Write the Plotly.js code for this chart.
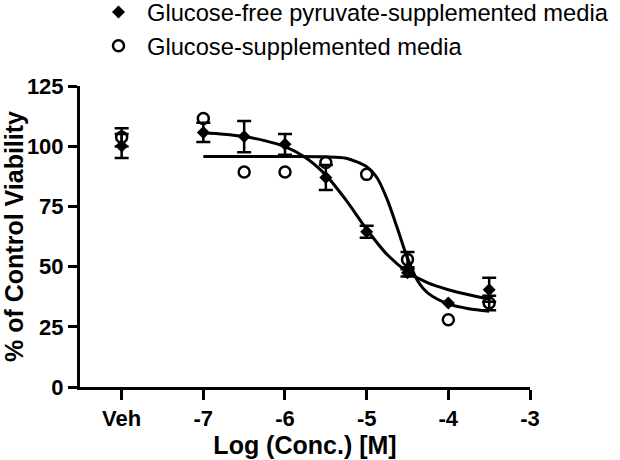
<!DOCTYPE html>
<html>
<head>
<meta charset="utf-8">
<script src="https://cdn.plot.ly/plotly-3.0.1.min.js"></script>
<style>html,body{margin:0;padding:0;background:#fff;}#chart{width:620px;height:460px;}</style>
</head>
<body>
<div id="chart"></div>
<script>
// Measured points (log concentration; Veh plotted at -8)
const doseX = [-8, -7, -6.5, -6, -5.5, -5, -4.5, -4, -3.5];
const glucoseFreeY   = [100.1, 105.7, 104.0, 100.8, 87.0, 64.5, 47.4, 34.9, 40.4];
const glucoseFreeErr = [5.0, 4.0, 6.5, 4.3, 5.2, 2.5, 1.5, null, 5.0];
const glucoseY   = [103.7, 111.5, 89.3, 89.3, 93.2, 88.3, 52.9, 27.9, 34.9];
const glucoseErr = [3.8, null, null, null, null, null, 3.2, null, 3.0];

// Fitted curves
const glucoseFreeFitX = [-7, -6.75, -6.5, -6.25, -6, -5.75, -5.5, -5.25, -5, -4.75, -4.5, -4.25, -4, -3.75, -3.5];
const glucoseFreeFitY = [105.6, 105.0, 104.0, 102.3, 99.8, 95.3, 88.0, 77.5, 65.5, 55.0, 47.8, 43.2, 40.4, 38.3, 36.5];
const glucoseFitX = [-7, -6.5, -6, -5.5, -5.25, -5, -4.875, -4.75, -4.625, -4.5, -4.375, -4.25, -4, -3.75, -3.5];
const glucoseFitY = [95.7, 95.7, 95.7, 95.6, 95.0, 91.5, 87.0, 78.0, 66.0, 53.5, 44.0, 39.0, 34.5, 32.5, 31.5];

const seriesNames = ['Glucose-free pyruvate-supplemented media', 'Glucose-supplemented media'];
const xTickVals = [-8, -7, -6, -5, -4, -3];
const xTickText = ['Veh', '-7', '-6', '-5', '-4', '-3'];
const yTickVals = [0, 25, 50, 75, 100, 125];

const FONT = 'Arial, "Liberation Sans", sans-serif';

// error bars only where a bar is visible in the reference
function errTrace(ys, errs) {
  const idx = errs.map((e, i) => (e === null ? -1 : i)).filter(i => i >= 0);
  return {
    x: idx.map(i => doseX[i]), y: idx.map(i => ys[i]), type: 'scatter', mode: 'markers',
    marker: {size: 2, color: 'rgba(0,0,0,0)'},
    error_y: {type: 'data', array: idx.map(i => errs[i]), visible: true, color: '#000', thickness: 2.5, width: 7},
    showlegend: false, hoverinfo: 'skip'
  };
}

const traces = [
  {
    x: glucoseFreeFitX, y: glucoseFreeFitY, type: 'scatter', mode: 'lines',
    line: {color: '#000', width: 3, shape: 'spline', smoothing: 0.8},
    showlegend: false, hoverinfo: 'skip'
  },
  {
    x: glucoseFitX, y: glucoseFitY, type: 'scatter', mode: 'lines',
    line: {color: '#000', width: 3, shape: 'spline', smoothing: 0.8},
    showlegend: false, hoverinfo: 'skip'
  },
  errTrace(glucoseFreeY, glucoseFreeErr),
  errTrace(glucoseY, glucoseErr),
  {
    x: doseX, y: glucoseFreeY, type: 'scatter', mode: 'markers',
    name: seriesNames[0],
    marker: {symbol: 'diamond', size: 10, color: '#000'}
  },
  {
    x: doseX, y: glucoseY, type: 'scatter', mode: 'markers',
    name: seriesNames[1],
    marker: {symbol: 'circle-open', size: 11, color: '#000', line: {color: '#000', width: 2.5}}
  }
];

const layout = {
  width: 620, height: 460,
  paper_bgcolor: '#fff', plot_bgcolor: '#fff',
  margin: {l: 80, r: 90, t: 86, b: 73, autoexpand: false},
  font: {family: FONT, color: '#000'},
  showlegend: true,
  legend: {
    x: 0.0222, xanchor: 'left', y: 1.3186, yanchor: 'top',
    bgcolor: 'rgba(0,0,0,0)', borderwidth: 0, itemwidth: 47,
    font: {family: FONT, size: 23.7, color: '#000'}
  },
  xaxis: {
    range: [-8.51, -3], tickvals: xTickVals, ticktext: xTickText,
    showgrid: false, zeroline: false,
    showline: true, linecolor: '#000', linewidth: 3,
    ticks: 'outside', ticklen: 10, tickwidth: 3, tickcolor: '#000',
    tickfont: {family: FONT, size: 22, color: '#000', weight: 'bold'},
    title: {text: 'Log (Conc.) [M]', font: {family: FONT, size: 25, color: '#000', weight: 'bold'}, standoff: 5}
  },
  yaxis: {
    range: [0, 125], tickvals: yTickVals,
    showgrid: false, zeroline: false,
    showline: true, linecolor: '#000', linewidth: 3,
    ticks: 'outside', ticklen: 9, tickwidth: 3, tickcolor: '#000',
    tickfont: {family: FONT, size: 22, color: '#000', weight: 'bold'},
    title: {text: '% of Control Viability', font: {family: FONT, size: 25, color: '#000', weight: 'bold'}, standoff: 10}
  }
};

Plotly.newPlot('chart', traces, layout, {displayModeBar: false, staticPlot: true});
</script>
</body>
</html>
